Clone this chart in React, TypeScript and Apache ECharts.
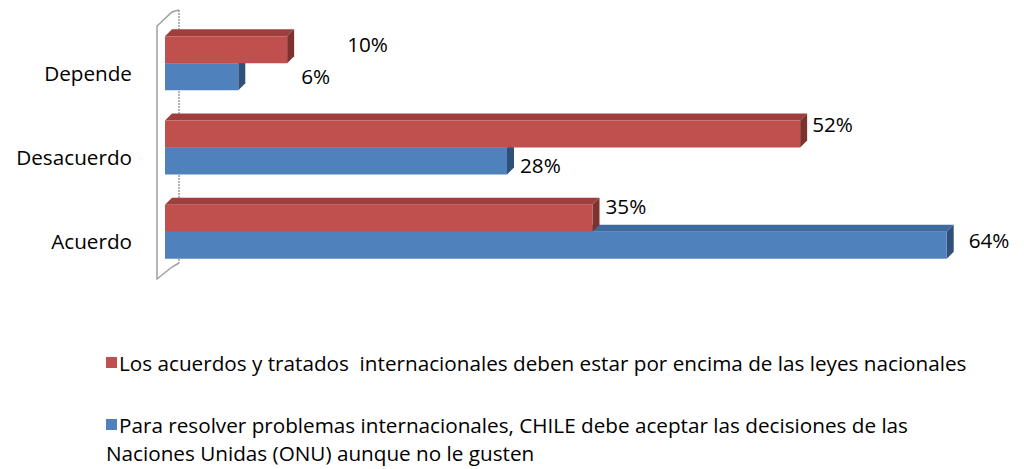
import React, { useEffect, useRef } from "react";
import * as echarts from "echarts";

const categories = ["Depende", "Desacuerdo", "Acuerdo"];
const seriesNames = [
  "Los acuerdos y tratados  internacionales deben estar por encima de las leyes nacionales",
  "Para resolver problemas internacionales, CHILE debe aceptar las decisiones de las Naciones Unidas (ONU) aunque no le gusten",
];
const blueLegendLines = [
  "Para resolver problemas internacionales, CHILE debe aceptar las decisiones de las",
  "Naciones Unidas (ONU) aunque no le gusten",
];
const redValues = [10, 52, 35];
const blueValues = [6, 28, 64];

const FONT = "'Open Sans'";
const FS = 20.7;
const BAR_H = 27;
const DEPTH = 7;

const palette = {
  red: { front: "#C0504D", top: "#9E3F3C", side: "#7E3230" },
  blue: { front: "#4F81BD", top: "#3E6A9E", side: "#2F5079" },
};

// label nudges relative to bar end / bar centre (px)
const labelNudge = {
  red: [[60, -6], [12, -10], [13, -12]],
  blue: [[63, -1], [13, 4], [22, -5]],
};

function makeRender(kind: "red" | "blue") {
  const col = palette[kind];
  return (params: any, api: any) => {
    const val = api.value(0);
    const idx = api.value(1);
    const [x0, yc] = api.coord([0, idx]);
    const [x1] = api.coord([val, idx]);
    const yTop = kind === "red" ? yc - BAR_H : yc;
    const yBot = yTop + BAR_H;
    const D = DEPTH;
    const nud = labelNudge[kind][idx];
    return {
      type: "group",
      children: [
        {
          type: "polygon",
          shape: { points: [[x0, yTop], [x0 + D, yTop - D], [x1 + D, yTop - D], [x1, yTop]] },
          style: { fill: col.top },
        },
        {
          type: "polygon",
          shape: { points: [[x1, yTop], [x1 + D, yTop - D], [x1 + D, yBot - D], [x1, yBot]] },
          style: { fill: col.side },
        },
        {
          type: "rect",
          shape: { x: x0, y: yTop, width: x1 - x0, height: BAR_H },
          style: { fill: col.front },
        },
        {
          type: "text",
          x: x1 + nud[0],
          y: yTop + BAR_H / 2 + nud[1],
          style: {
            text: val + "%",
            fill: "#000",
            font: `${FS}px ${FONT}`,
            textAlign: "left",
            textVerticalAlign: "middle",
          },
        },
      ],
    };
  };
}

export default function App() {
  const ref = useRef<HTMLDivElement>(null);
  useEffect(() => {
    document.body.style.margin = "0";
    const chart = echarts.init(ref.current!, null, { renderer: "svg" });
    const toData = (vals: number[]) => vals.map((v, i) => [v, i]);
    const textStyle = (text: string) => ({
      text,
      font: `${FS}px ${FONT}`,
      fill: "#000",
      textVerticalAlign: "middle",
    });
    chart.setOption({
      animation: false,
      backgroundColor: "#fff",
      grid: { left: 165, right: 4, top: 21, bottom: 195 },
      xAxis: { type: "value", min: 0, max: 70, show: false },
      yAxis: {
        type: "category",
        data: categories,
        inverse: true,
        axisLine: { show: false },
        axisTick: { show: false },
        splitLine: { show: false },
        axisLabel: {
          margin: 33,
          color: "#000",
          fontFamily: "Open Sans",
          fontSize: FS,
          verticalAlign: "top",
          lineHeight: 19,
        },
      },
      series: [
        {
          type: "custom",
          name: seriesNames[1],
          z: 2,
          renderItem: makeRender("blue"),
          encode: { x: 0, y: 1 },
          data: toData(blueValues),
        },
        {
          type: "custom",
          name: seriesNames[0],
          z: 3,
          renderItem: makeRender("red"),
          encode: { x: 0, y: 1 },
          data: toData(redValues),
        },
      ],
      graphic: [
        {
          type: "polyline",
          z: 1,
          shape: { points: [[179, 10], [179, 263]] },
          style: { stroke: "#9a9a9a", lineWidth: 1.5, lineDash: [2, 1], fill: null },
        },
        {
          type: "polyline",
          z: 1,
          shape: { points: [[179, 10], [172, 12], [157, 26], [157, 279], [172, 267], [179, 263]] },
          style: { stroke: "#a0a0a0", lineWidth: 1.5, fill: null },
        },
        { type: "rect", shape: { x: 106, y: 357, width: 11, height: 11 }, style: { fill: palette.red.front } },
        { type: "text", x: 119, y: 363, style: textStyle(seriesNames[0]) },
        { type: "rect", shape: { x: 106, y: 419, width: 11, height: 11 }, style: { fill: palette.blue.front } },
        { type: "text", x: 119, y: 425, style: textStyle(blueLegendLines[0]) },
        { type: "text", x: 106, y: 453, style: textStyle(blueLegendLines[1]) },
      ],
    });
    return () => chart.dispose();
  }, []);
  return <div ref={ref} style={{ width: 1024, height: 469 }} />;
}
